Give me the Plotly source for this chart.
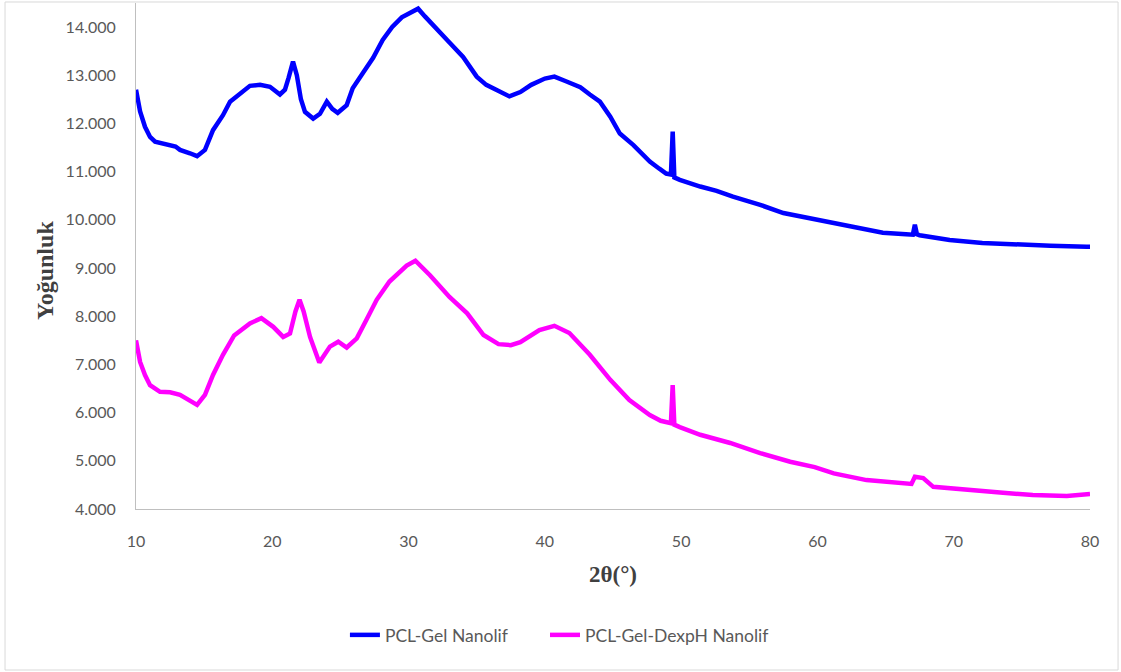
import plotly.graph_objects as go

# 2θ positions and intensities
blue_x = [10.0, 10.3, 10.66, 11.03, 11.4, 11.76, 12.1, 12.49, 12.9, 13.23, 13.6, 13.96, 14.48,
          15.06, 15.65, 16.38, 16.9, 17.63, 18.36, 19.1, 19.83, 20.56, 20.93, 21.2, 21.52, 21.8,
          22.1, 22.4, 23.0, 23.5, 24.0, 24.4, 24.8, 25.46, 25.9, 26.66, 27.4, 28.1, 28.8, 29.5,
          30.1, 30.7, 31.2, 31.8, 32.3, 33.0, 34.0, 35.0, 35.7, 36.46, 37.4, 38.2, 39.0, 40.0,
          40.7, 41.5, 42.6, 43.3, 44.04, 44.8, 45.5, 46.5, 47.7, 48.4, 48.9, 49.25, 49.38, 49.5,
          49.9, 51.4, 52.6, 53.8, 55.8, 57.5, 60.0, 62.4, 64.8, 66.5, 67.0, 67.15, 67.3, 67.5,
          69.7, 72.1, 74.6, 77.1, 79.75, 80.0]
blue_y = [12700, 12250, 11930, 11720, 11620, 11600, 11580, 11550, 11520, 11450, 11420, 11380, 11320,
          11450, 11860, 12170, 12450, 12630, 12780, 12800, 12760, 12600, 12700, 12950, 13280, 13000,
          12500, 12240, 12100, 12200, 12450, 12300, 12220, 12380, 12730, 13050, 13360, 13730, 14000, 14200,
          14300, 14380, 14220, 14050, 13880, 13680, 13380, 12970, 12800, 12690, 12560, 12650, 12800, 12930,
          12970, 12880, 12750, 12600, 12450, 12140, 11790, 11550, 11210, 11060, 10960, 10940, 11830, 10880,
          10830, 10690, 10600, 10480, 10310, 10140, 10000, 9860, 9730, 9700, 9690, 9900, 9700, 9680,
          9580, 9520, 9480, 9460, 9440, 9440]

pink_x = [10.0, 10.3, 10.66, 11.03, 11.76, 12.5, 13.23, 13.96, 14.48, 15.06, 15.65, 16.38, 17.2,
          18.36, 19.2, 20.07, 20.8, 21.3, 21.7, 22.0, 22.3, 22.77, 23.45, 24.23, 24.84, 25.46, 26.2,
          26.9, 27.66, 28.6, 29.86, 30.5, 31.57, 33.0, 34.3, 35.5, 36.6, 37.5, 38.2, 39.6, 40.7,
          41.8, 43.3, 44.8, 46.2, 47.7, 48.5, 49.25, 49.38, 49.5, 49.9, 51.4, 53.6, 55.8, 58.0,
          59.8, 61.2, 63.6, 66.05, 66.9, 67.15, 67.76, 68.5, 70.9, 73.4, 75.8, 78.3, 80.0]
pink_y = [7500, 7050, 6780, 6570, 6430, 6420, 6370, 6260, 6160, 6370, 6780, 7200, 7600,
          7850, 7960, 7780, 7570, 7640, 8100, 8340, 8100, 7570, 7040, 7370, 7470, 7350, 7540,
          7920, 8340, 8720, 9050, 9150, 8850, 8400, 8060, 7610, 7420, 7400, 7460, 7710, 7800,
          7650, 7200, 6680, 6260, 5950, 5830, 5780, 6570, 5750, 5700, 5540, 5370, 5160, 4980,
          4870, 4740, 4600, 4530, 4520, 4670, 4640, 4460, 4390, 4340, 4290, 4270, 4310]

series_names = ["PCL-Gel Nanolif", "PCL-Gel-DexpH Nanolif"]
x_ticks = [10, 20, 30, 40, 50, 60, 70, 80]
y_ticks = [4000, 5000, 6000, 7000, 8000, 9000, 10000, 11000, 12000, 13000, 14000]

fig = go.Figure()
fig.add_trace(go.Scatter(x=blue_x, y=blue_y, mode="lines", name=series_names[0],
                         line=dict(color="#0000FF", width=4.5), legend="legend"))
fig.add_trace(go.Scatter(x=pink_x, y=pink_y, mode="lines", name=series_names[1],
                         line=dict(color="#FF00FF", width=4.5), legend="legend2"))

tick_font = dict(family="Lato, Open Sans, sans-serif", size=16, color="#595959")
legend_font = dict(family="Lato, Open Sans, sans-serif", size=17.5, color="#595959")

fig.update_layout(
    width=1121, height=672,
    margin=dict(l=136, r=31, t=3, b=163),
    paper_bgcolor="white", plot_bgcolor="white",
    separators=",.",
    showlegend=True,
    legend=dict(orientation="h", x=0.219, xanchor="left", y=-0.249, yanchor="middle",
                font=legend_font, bgcolor="rgba(0,0,0,0)"),
    legend2=dict(orientation="h", x=0.4287, xanchor="left", y=-0.249, yanchor="middle",
                 font=legend_font, bgcolor="rgba(0,0,0,0)"),
    xaxis=dict(range=[10, 80], tickvals=x_ticks, showgrid=False, zeroline=False,
               showline=True, linecolor="#BFBFBF", linewidth=1, ticks="",
               tickfont=tick_font, ticklabelstandoff=18),
    yaxis=dict(range=[4000, 14498], tickvals=y_ticks, tickformat=",.0f", showgrid=False,
               zeroline=False, showline=True, linecolor="#BFBFBF", linewidth=1, ticks="",
               tickfont=tick_font, ticklabelstandoff=16),
    shapes=[dict(type="rect", xref="paper", yref="paper",
                 x0=-0.1373, x1=1.0294, y0=-0.3182, y1=1.002,
                 line=dict(color="#D9D9D9", width=1), fillcolor="rgba(0,0,0,0)", layer="below")],
    annotations=[
        dict(text="<b>Yoğunluk</b>", xref="paper", yref="paper", x=-0.0954, y=0.4723,
             textangle=-90, showarrow=False,
             font=dict(family="Liberation Serif, Times New Roman, serif", size=24, color="#404040"),
             xanchor="center", yanchor="middle"),
        dict(text="<b>2θ(°)</b>", xref="paper", yref="paper", x=0.5, y=-0.1304,
             showarrow=False,
             font=dict(family="Liberation Serif, Times New Roman, serif", size=23, color="#404040"),
             xanchor="center", yanchor="middle"),
    ],
)

fig.write_html("out.html")
